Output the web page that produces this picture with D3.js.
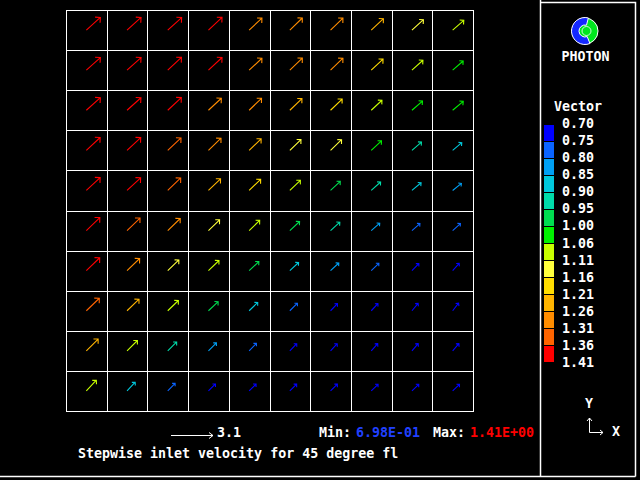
<!DOCTYPE html>
<html>
<head>
<meta charset="utf-8">
<script src="https://cdn.jsdelivr.net/npm/d3@7"></script>
<style>
html,body{margin:0;padding:0;background:#000;}
svg{display:block;}
text{font-family:"DejaVu Sans Mono",monospace;font-weight:bold;font-size:13.3px;fill:#fff;}
</style>
</head>
<body>
<svg id="chart" width="640" height="480"></svg>
<script>
// ---- data ----
const columns = [0,1,2,3,4,5,6,7,8,9];
const rows = [0,1,2,3,4,5,6,7,8,9]; // top to bottom
// vector magnitude per cell (rows top->bottom)
const magnitudes = [
  [1.39,1.39,1.38,1.37,1.29,1.28,1.27,1.23,1.14,1.09],
  [1.39,1.39,1.38,1.37,1.29,1.28,1.27,1.19,1.09,1.03],
  [1.39,1.38,1.37,1.30,1.27,1.24,1.19,1.08,1.03,1.02],
  [1.39,1.38,1.34,1.29,1.23,1.14,1.13,1.03,0.93,0.88],
  [1.39,1.37,1.33,1.24,1.18,1.08,0.98,0.93,0.88,0.83],
  [1.38,1.33,1.28,1.14,1.08,0.98,0.92,0.83,0.78,0.77],
  [1.37,1.29,1.14,1.08,0.98,0.88,0.83,0.78,0.73,0.72],
  [1.33,1.23,1.09,0.98,0.88,0.79,0.73,0.72,0.71,0.71],
  [1.23,1.08,0.93,0.83,0.77,0.73,0.72,0.71,0.70,0.70],
  [1.08,0.88,0.78,0.73,0.72,0.71,0.71,0.70,0.70,0.70]
];
// vector direction per cell, degrees above the +x axis
const angles = [
  [42,42,42,43,43,44,44,43,42,41],
  [42,42,43,43,43,44,44,43,42,41],
  [42,42,43,43,44,44,44,43,41,40],
  [43,43,43,44,44,44,44,43,41,40],
  [43,43,44,44,44,44,43,42,40,39],
  [44,44,44,44,44,43,42,41,41,42],
  [44,44,44,44,43,43,43,44,46,48],
  [44,44,44,43,44,45,46,47,50,52],
  [45,45,45,45,46,46,47,48,49,49],
  [47,47,46,45,45,45,45,44,44,44]
];
const legendLabels = ["0.70","0.75","0.80","0.85","0.90","0.95","1.00","1.06","1.11","1.16","1.21","1.26","1.31","1.36","1.41"];
const legendThresholds = [0.75,0.80,0.85,0.90,0.95,1.00,1.06,1.11,1.16,1.21,1.26,1.31,1.36];
const legendColors = ["#0000ff","#0a64ff","#00a0f5","#00c8dc","#00dcaa","#00dc50","#00f000","#c8ff00","#ffff3c","#ffdc00","#ffb400","#ff8c00","#ff6400","#ff0000"];
const refVector = 3.1;
const minText = "6.98E-01", maxText = "1.41E+00";
const title = "Stepwise inlet velocity for 45 degree fl";

// ---- drawing ----
const svg = d3.select("#chart");
svg.append("rect").attr("width",640).attr("height",480).attr("fill","#000");

const x = d3.scaleBand().domain(columns).range([66,473]);
const y = d3.scaleBand().domain(rows).range([10,411]);
const color = d3.scaleThreshold().domain(legendThresholds).range(legendColors);
const len = d3.scaleLinear().domain([0, refVector]).range([0, 42]);

// grid
const g = svg.append("g").attr("shape-rendering","crispEdges").attr("stroke","#fff").attr("stroke-width",1);
const xEdges = columns.map(c => x(c)).concat([x.range()[1]]);
const yEdges = rows.map(r => y(r)).concat([y.range()[1]]);
g.selectAll("line.v").data(xEdges).join("line").attr("class","v")
  .attr("x1",d=>Math.round(d)+0.5).attr("x2",d=>Math.round(d)+0.5)
  .attr("y1",y.range()[0]).attr("y2",y.range()[1]+1);
g.selectAll("line.h").data(yEdges).join("line").attr("class","h")
  .attr("y1",d=>Math.round(d)+0.5).attr("y2",d=>Math.round(d)+0.5)
  .attr("x1",x.range()[0]).attr("x2",x.range()[1]+1);

// vectors
const cells = [];
rows.forEach(r => columns.forEach(c => cells.push({r, c, m: magnitudes[r][c], a: angles[r][c]})));

function arrowPath(x0, y0, L, deg) {
  const t = deg * Math.PI / 180;
  const x1 = x0 + L * Math.cos(t), y1 = y0 - L * Math.sin(t);
  const h = Math.max(3, L * 0.28);
  const b1 = t + Math.PI - Math.PI/4, b2 = t + Math.PI + Math.PI/4;
  return `M${x0},${y0}L${x1},${y1}M${x1 + h*Math.cos(b1)},${y1 - h*Math.sin(b1)}L${x1},${y1}L${x1 + h*Math.cos(b2)},${y1 - h*Math.sin(b2)}`;
}

svg.append("g").selectAll("path").data(cells).join("path")
  .attr("d", d => arrowPath(x(d.c) + x.bandwidth()/2, y(d.r) + y.bandwidth()/2, len(d.m), d.a))
  .attr("fill","none")
  .attr("stroke", d => color(d.m))
  .attr("stroke-width", 1.1);

// right panel frame
const frame = svg.append("g").attr("stroke","#fff").attr("stroke-width",1.5).attr("fill","none");
frame.append("path").attr("d","M540.5,0V476.5M540.5,2.5H635.5V476.5M0,476.5H635.5");

// logo
const logo = svg.append("g").attr("transform","translate(585,31)");
logo.append("circle").attr("r",13).attr("fill","#00e61e").attr("stroke","#fff").attr("stroke-width",1);
logo.append("path")
  .attr("d", d3.arc().innerRadius(6).outerRadius(13.5).startAngle(Math.PI*0.88).endAngle(Math.PI*2.08)())
  .attr("fill","#1428ff").attr("stroke","#fff").attr("stroke-width",1);
logo.append("circle").attr("r",4.5).attr("cx",1.5).attr("fill","#00e61e").attr("stroke","#fff").attr("stroke-width",0.8);
svg.append("text").attr("x",585.5).attr("y",61).attr("text-anchor","middle").text("PHOTON");

// legend
svg.append("text").attr("x",578).attr("y",111).attr("text-anchor","middle").text("Vector");
const lb = d3.scaleBand().domain(d3.range(legendColors.length)).range([125,363]);
svg.append("g").attr("shape-rendering","crispEdges").selectAll("rect").data(legendColors).join("rect")
  .attr("x",544).attr("width",10)
  .attr("y",(d,i)=>lb(i)).attr("height",lb.bandwidth()-1)
  .attr("fill",d=>d);
const lp = d3.scalePoint().domain(legendLabels).range([123,362]);
svg.append("g").selectAll("text").data(legendLabels).join("text")
  .attr("x",562).attr("y",d=>lp(d)+5).text(d=>d);

// axis triad
svg.append("text").attr("x",589).attr("y",408).attr("text-anchor","middle").text("Y");
svg.append("text").attr("x",616).attr("y",436).attr("text-anchor","middle").text("X");
svg.append("path").attr("d","M589.5,432.5V418M587,421L589.5,418L592,421M589.5,432.5H603M600,430L603,432.5L600,435")
  .attr("stroke","#fff").attr("fill","none").attr("stroke-width",1);

// reference vector
const rx0 = 171, ry = 435.5;
const rx1 = rx0 + len(refVector);
svg.append("path").attr("d",`M${rx0},${ry}H${rx1}M${rx1-4},${ry-3}L${rx1},${ry}L${rx1-4},${ry+3}`)
  .attr("stroke","#fff").attr("fill","none").attr("stroke-width",1);
svg.append("text").attr("x",217).attr("y",437).text(String(refVector));

// min / max
svg.append("text").attr("x",319).attr("y",437).text("Min:");
svg.append("text").attr("x",356).attr("y",437).style("fill","#2040ff").text(minText);
svg.append("text").attr("x",433).attr("y",437).text("Max:");
svg.append("text").attr("x",470).attr("y",437).style("fill","#ff0000").text(maxText);

// title
svg.append("text").attr("x",78).attr("y",458).text(title);
</script>
</body>
</html>
